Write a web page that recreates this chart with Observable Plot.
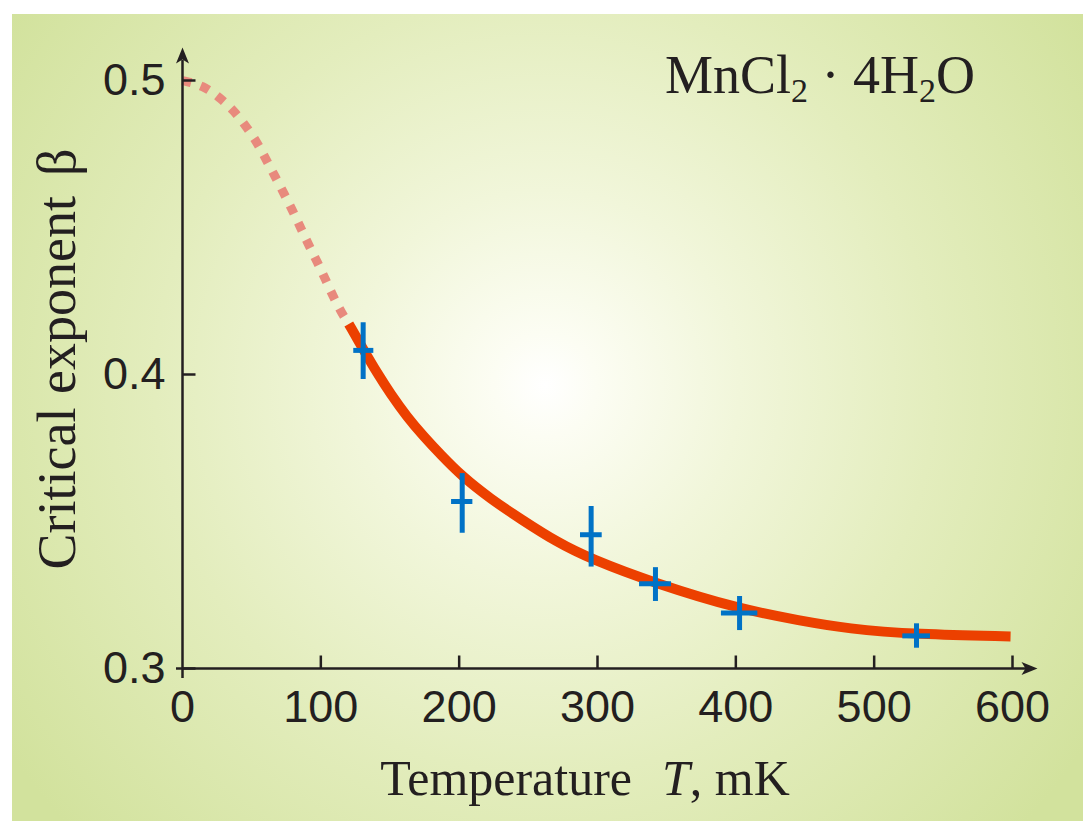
<!DOCTYPE html>
<html><head><meta charset="utf-8">
<script src="https://cdn.jsdelivr.net/npm/d3@7"></script>
<script src="https://cdn.jsdelivr.net/npm/@observablehq/plot@0.6"></script>
<style>body{margin:0;background:#fff;} #chart svg{display:block}</style>
</head><body><div id="chart"></div>
<script>
// Dotted (extrapolated) part of the curve
const dottedT    = [0, 15, 27, 37, 45.5, 53.5, 60, 66.5, 73, 79.5, 85.3, 91.1, 97.6, 103.4, 109.2, 115.7, 120.2];
const dottedBeta = [0.5, 0.4983, 0.4942, 0.4898, 0.4847, 0.4793, 0.4735, 0.4677, 0.4619, 0.4558, 0.45, 0.4442, 0.4381, 0.4323, 0.4262, 0.4204, 0.4172];
// Solid (fitted) part of the curve
const solidT    = [120.2, 131.1, 140.7, 150.4, 162.4, 174.4, 186.5, 202.2, 222.7, 244.3, 270.9, 294.9, 341.9, 403.4, 446.7, 480.5, 531.1, 598.6];
const solidBeta = [0.4172, 0.4082, 0.4005, 0.3934, 0.3855, 0.3789, 0.3728, 0.3653, 0.3577, 0.3509, 0.3429, 0.3373, 0.3289, 0.3201, 0.3163, 0.3135, 0.3116, 0.3109];
// Measured points with error bars
const pointT    = [130.6, 202.2, 295.4, 341.9, 402.7, 530.6];
const pointBeta = [0.4082, 0.3568, 0.3455, 0.3288, 0.3189, 0.3111];
const betaLow   = [0.3983, 0.3460, 0.3345, 0.3228, 0.3129, 0.3069];
const betaHigh  = [0.4176, 0.3663, 0.3551, 0.3343, 0.3245, 0.3152];
const tLow      = [123.8, 194.5, 287.7, 330.4, 389.6, 520.7];
const tHigh     = [138.3, 209.9, 303.4, 353.5, 415.9, 540.7];
// Ticks
const xTicks = [0, 100, 200, 300, 400, 500, 600];
const xTickLabels = ["0", "100", "200", "300", "400", "500", "600"];
const yTicks = [0.3, 0.4, 0.5];
const yTickLabels = ["0.3", "0.4", "0.5"];
const xTitle = "Temperature";
const xTitleVar = "T";
const xTitleUnit = ", mK";
const yTitle = "Critical exponent";
const yTitleSym = "β";

const dotted = dottedT.map((t, i) => ({t, b: dottedBeta[i]}));
const solid = solidT.map((t, i) => ({t, b: solidBeta[i]}));
const pts = pointT.map((t, i) => ({t, b: pointBeta[i], lo: betaLow[i], hi: betaHigh[i], tl: tLow[i], th: tHigh[i]}));

const ink = "#231f20";
const tickShape = {draw(ctx, l) { ctx.moveTo(0, 0); ctx.lineTo(0, -l); }};
const headShape = {draw(ctx, l) { ctx.moveTo(0, -l); ctx.lineTo(-6.5, -l + 16); ctx.lineTo(0, -l + 12); ctx.lineTo(6.5, -l + 16); ctx.closePath(); }};

const chart = Plot.plot({
  width: 1083, height: 821,
  marginLeft: 182, marginRight: 71, marginTop: 80, marginBottom: 153,
  style: {background: "transparent", fontFamily: "'Liberation Sans', Arial, sans-serif", fontSize: "45px", color: ink},
  x: {domain: [0, 600], axis: null},
  y: {domain: [0.3, 0.5], axis: null},
  marks: [
    Plot.line(dotted, {x: "t", y: "b", stroke: "#e88a7d", strokeWidth: 9, strokeDasharray: "9 10", strokeLinecap: "butt", curve: "basis"}),
    Plot.line(solid, {x: "t", y: "b", stroke: "#ec4000", strokeWidth: 10, strokeLinecap: "butt", curve: "basis"}),
    Plot.ruleX([0], {stroke: ink, strokeWidth: 2.5, insetTop: -20, insetBottom: -10}),
    Plot.ruleY([0.3], {stroke: ink, strokeWidth: 2.5, insetLeft: -6, insetRight: -14}),
    Plot.vector(xTicks.slice(1), {x: d => d, y: d => 0.3, length: 13, rotate: 0, anchor: "start", shape: tickShape, stroke: ink, strokeWidth: 2.5, strokeLinecap: "butt"}),
    Plot.vector(yTicks, {x: d => 0, y: d => d, length: 13, rotate: 90, anchor: "start", shape: tickShape, stroke: ink, strokeWidth: 2.5, strokeLinecap: "butt"}),
    Plot.vector([0.5], {x: d => 0, y: d => d, length: 33, rotate: 0, anchor: "start", shape: headShape, fill: ink, stroke: "none"}),
    Plot.vector([600], {x: d => d, y: d => 0.3, length: 25, rotate: 90, anchor: "start", shape: headShape, fill: ink, stroke: "none"}),
    Plot.axisX(xTicks, {tickSize: 0, tickPadding: 22, tickFormat: (d, i) => xTickLabels[i], fontSize: 45, fill: ink}),
    Plot.axisY(yTicks, {tickSize: 0, tickPadding: 17, tickFormat: (d, i) => yTickLabels[i], fontSize: 45, fill: ink}),
    Plot.ruleX(pts, {x: "t", y1: "lo", y2: "hi", stroke: "#0072c6", strokeWidth: 5, strokeLinecap: "butt"}),
    Plot.ruleY(pts, {y: "b", x1: "tl", x2: "th", stroke: "#0072c6", strokeWidth: 5, strokeLinecap: "butt"})
  ]
});
document.getElementById("chart").appendChild(chart);

const svg = d3.select(chart);
const defs = svg.insert("defs", ":first-child");
const grad = defs.append("radialGradient").attr("id", "bgGrad").attr("gradientUnits", "userSpaceOnUse")
  .attr("cx", 545).attr("cy", 385).attr("r", 650);
[[0, "#ffffff"], [0.08, "#fcfdf3"], [0.3, "#f1f6da"], [0.6, "#e3edbd"], [1, "#d2e29d"]].forEach(([o, c]) =>
  grad.append("stop").attr("offset", o).attr("stop-color", c));
svg.insert("rect", "defs + *").attr("x", 12).attr("y", 14).attr("width", 1071).attr("height", 807).attr("fill", "url(#bgGrad)");

const serif = "'Liberation Serif', 'Times New Roman', serif";
// Title
const title = svg.append("text").attr("x", 665).attr("y", 93).attr("text-anchor", "start").attr("font-family", serif).attr("font-size", 54).attr("fill", ink);
title.append("tspan").text("MnCl");
title.append("tspan").attr("font-size", 34).attr("dy", 9).text("2");
title.append("tspan").attr("dy", -9).text(" · 4H");
title.append("tspan").attr("font-size", 34).attr("dy", 9).text("2");
title.append("tspan").attr("dy", -9).text("O");
// X title
const xt = svg.append("text").attr("x", 585).attr("y", 795).attr("text-anchor", "middle").attr("font-family", serif).attr("font-size", 50).attr("fill", ink);
xt.append("tspan").text(xTitle);
xt.append("tspan").attr("dx", 30).attr("font-style", "italic").text(xTitleVar);
xt.append("tspan").text(xTitleUnit);
// Y title
const yt = svg.append("text").attr("transform", "translate(75,359) rotate(-90)").attr("text-anchor", "middle").attr("font-family", serif).attr("font-size", 54).attr("fill", ink);
yt.append("tspan").text(yTitle);
yt.append("tspan").attr("dx", 20).text(yTitleSym);
</script>
</body></html>
